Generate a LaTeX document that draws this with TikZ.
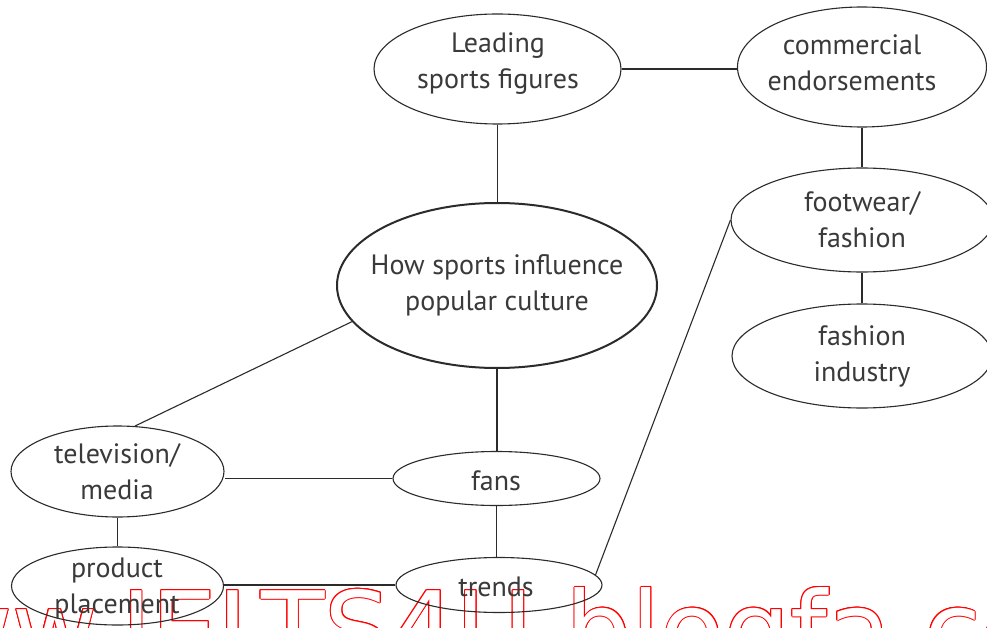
\documentclass[tikz,border=0pt]{standalone}
\usepackage{fontspec}
\setmainfont{PT Sans}
\newfontfamily\wmfont{DejaVu Sans}
\usetikzlibrary{shapes.geometric}
\definecolor{ink}{HTML}{2B2B2B}
\definecolor{txt}{HTML}{3A3A3A}
\tikzset{
  bub/.style={ellipse, draw=ink, line width=1.1pt, inner sep=0pt},
  lbl/.style={inner sep=0pt, align=center, text=txt, font=\fontsize{28}{36}\selectfont},
  link/.style={draw=ink, line width=1.1pt},
  wmark/.style={anchor=base west, inner sep=0pt, font=\wmfont\fontsize{104}{104}\selectfont}
}
\begin{document}
\begin{tikzpicture}[x=1pt,y=-1pt]
\useasboundingbox (0,0) rectangle (987,628);
\clip (0,0) rectangle (987,628);
\fill[white] (0,0) rectangle (987,628);
% watermark
\foreach \a in {0,30,...,330}
  \node[wmark, text=red] (wm\a) at ([shift={(\a:1pt)}]-158,666) {www.IELTS4U.blogfa.com};
\node[wmark, text=white] (wm) at (-158,666) {www.IELTS4U.blogfa.com};
% ellipses
\node[bub, minimum width=247pt, minimum height=110pt] (lead) at (497.5,69) {};
\node[bub, minimum width=249pt, minimum height=120pt] (comm) at (862,67) {};
\node[bub, minimum width=262pt, minimum height=104pt] (foot) at (862,220) {};
\node[bub, minimum width=260pt, minimum height=104pt] (ind) at (862,356) {};
\node[bub, line width=2pt, minimum width=320pt, minimum height=165pt] (central) at (497,285.5) {};
\node[bub, minimum width=213pt, minimum height=91pt] (tv) at (117.5,471.5) {};
\node[bub, minimum width=207pt, minimum height=54pt] (fans) at (496.5,478.5) {};
\node[bub, minimum width=212pt, minimum height=78pt] (pp) at (117.5,586) {};
\node[bub, minimum width=206pt, minimum height=55pt] (trends) at (499,585) {};
% texts
\node[lbl] (lead-t) at (498,64) {Leading\\sports figures};
\node[lbl] (comm-t) at (852,62.5) {commercial\\endorsements};
\node[lbl] (foot-t) at (862,220) {footwear/\\fashion};
\node[lbl] (ind-t) at (862,356) {fashion\\industry};
\node[lbl] (central-t) at (497,285.5) {How sports influence\\popular culture};
\node[lbl] (tv-t) at (117,471.5) {television/\\media};
\node[lbl] (fans-t) at (496,480.5) {fans};
\node[lbl] (pp-t) at (117,588.5) {product\\placement};
\node[lbl] (trends-t) at (496,587) {trends};
% connectors
\draw[link] (lead.east) -- (lead.east -| comm.west);
\draw[link] (comm.south) -- (comm.south |- foot.north);
\draw[link] (foot.south) -- (ind.north);
\draw[link] (lead.south) -- (lead.south |- central.north);
\draw[link] (central.south) -- (central.south |- fans.north);
\draw[link] (fans.south) -- (fans.south |- trends.north);
\draw[link] (central.194.5) -- (tv.69);
\draw[link] (fans.west) -- (fans.west -| tv.east);
\draw[link] (tv.south) -- (pp.north);
\draw[link] (trends.west) -- (trends.west -| pp.east);
\draw[link] (trends.6.5) -- (foot.west);
\end{tikzpicture}
\end{document}
